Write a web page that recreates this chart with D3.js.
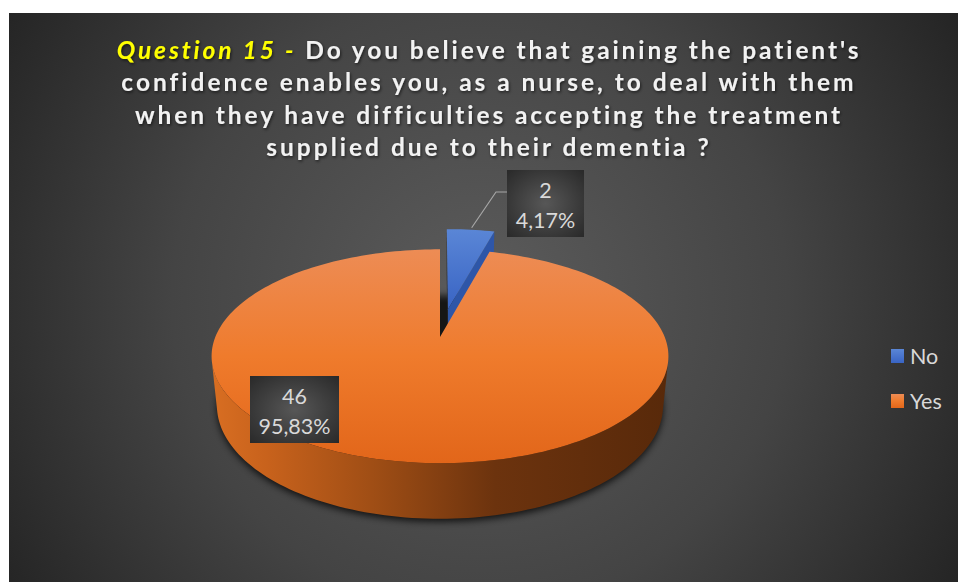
<!DOCTYPE html>
<html>
<head>
<meta charset="utf-8">
<script src="https://cdn.jsdelivr.net/npm/d3@7"></script>
<style>
  html, body { margin: 0; padding: 0; background: #ffffff; }
  svg { display: block; }
</style>
</head>
<body>
<svg id="chart" width="958" height="582"></svg>
<script>
// ---- data ----
const categories = ["No", "Yes"];
const values = [2, 46];
const titlePrefix = "Question 15 - ";
const titleLines = [
  "Do you believe that gaining the patient's",
  "confidence enables you, as a nurse, to deal with them",
  "when they have difficulties accepting the treatment",
  "supplied due to their dementia ?"
];

const W = 958, H = 582;
const svg = d3.select("#chart");
const defs = svg.append("defs");

// ---- background panel ----
const bg = defs.append("radialGradient").attr("id", "bgGrad")
  .attr("gradientUnits", "userSpaceOnUse")
  .attr("cx", 480).attr("cy", 300).attr("r", 560);
bg.append("stop").attr("offset", 0).attr("stop-color", "#5c5c5c");
bg.append("stop").attr("offset", 0.55).attr("stop-color", "#444444");
bg.append("stop").attr("offset", 1).attr("stop-color", "#242424");
svg.append("rect").attr("x", 9).attr("y", 13).attr("width", W - 9).attr("height", H - 13)
  .attr("fill", "url(#bgGrad)");

// ---- 3D pie projection ----
const cx = 440, cy = 337;
const focal = 1110, camDist = 4.94;
const tilt = Math.asin(0.4605);
const sT = Math.sin(tilt), cT = Math.cos(tilt);
const thick = 0.25;      // pie thickness (radius units)
const explode = 0.285;   // offset of the exploded slice

function project(X, Y, Z) {
  const d = Z * cT - Y * sT;
  const v = Z * sT + Y * cT;
  const k = focal / (camDist + d);
  return [cx + X * k, cy - v * k];
}

const pie = d3.pie().sort(null).value(d => d);
const arcs = pie(values);
const total = d3.sum(values);

// shadow under the pie
const shadowBlur = defs.append("filter").attr("id", "pieShadow")
  .attr("x", "-20%").attr("y", "-20%").attr("width", "140%").attr("height", "140%");
shadowBlur.append("feGaussianBlur").attr("stdDeviation", 3.5);

function rimPoints(a0, a1, Y, off, n) {
  const pts = [];
  for (let i = 0; i <= n; i++) {
    const a = a0 + (a1 - a0) * i / n;
    pts.push(project(Math.sin(a) + off[0], Y, Math.cos(a) + off[1]));
  }
  return pts;
}
const line = d3.line();

// gradients
const topOrange = defs.append("linearGradient").attr("id", "topOrange")
  .attr("x1", 0).attr("y1", 0).attr("x2", 0).attr("y2", 1);
topOrange.append("stop").attr("offset", 0).attr("stop-color", "#ED8C55");
topOrange.append("stop").attr("offset", 0.5).attr("stop-color", "#EF7B2C");
topOrange.append("stop").attr("offset", 1).attr("stop-color", "#E2661A");

const sideOrange = defs.append("linearGradient").attr("id", "sideOrange")
  .attr("gradientUnits", "userSpaceOnUse")
  .attr("x1", 212).attr("y1", 0).attr("x2", 668).attr("y2", 0);
sideOrange.append("stop").attr("offset", 0).attr("stop-color", "#D86E22");
sideOrange.append("stop").attr("offset", 0.12).attr("stop-color", "#C8621C");
sideOrange.append("stop").attr("offset", 0.35).attr("stop-color", "#A04E15");
sideOrange.append("stop").attr("offset", 0.62).attr("stop-color", "#6C330E");
sideOrange.append("stop").attr("offset", 1).attr("stop-color", "#58290A");

const topBlue = defs.append("linearGradient").attr("id", "topBlue")
  .attr("x1", 0).attr("y1", 0).attr("x2", 0).attr("y2", 1);
topBlue.append("stop").attr("offset", 0).attr("stop-color", "#5A86D6");
topBlue.append("stop").attr("offset", 1).attr("stop-color", "#3964C4");

const topFills = ["url(#topBlue)", "url(#topOrange)"];

// pie bottom shadow
{
  const bottom = rimPoints(0, 2 * Math.PI, -thick, [0, 0], 120).map(p => [p[0], p[1] + 3]);
  svg.append("path").attr("d", line(bottom) + "Z").attr("fill", "#000").attr("opacity", 0.75)
    .attr("filter", "url(#pieShadow)");
}

const pieG = svg.append("g");

// exploded back slice first, then the large front slice
arcs.forEach((a, i) => {
  const mid = (a.startAngle + a.endAngle) / 2;
  const off = a.data / total < 0.5 ? [explode * Math.sin(mid), explode * Math.cos(mid)] : [0, 0];
  const g = pieG.append("g");
  const n = Math.max(8, Math.round((a.endAngle - a.startAngle) / (2 * Math.PI) * 240));
  const c0 = project(off[0], 0, off[1]);
  const c1 = project(off[0], -thick, off[1]);

  // radial walls
  const wall = (ang, fill) => {
    const r0 = project(Math.sin(ang) + off[0], 0, Math.cos(ang) + off[1]);
    const r1 = project(Math.sin(ang) + off[0], -thick, Math.cos(ang) + off[1]);
    g.append("path").attr("d", line([c0, r0, r1, c1]) + "Z").attr("fill", fill);
  };
  if (i === 0) {
    wall(a.startAngle, "#232323");
    wall(a.endAngle, "#2E56A8");
  }

  // outer wall (only segments facing the viewer)
  const limit = -1 / (camDist * cT);
  const seg = [];
  for (let j = 0; j <= n; j++) {
    const ang = a.startAngle + (a.endAngle - a.startAngle) * j / n;
    if (Math.cos(ang) < limit + 0.02) seg.push(ang);
  }
  if (seg.length > 1) {
    const top = seg.map(t => project(Math.sin(t) + off[0], 0, Math.cos(t) + off[1]));
    const bot = seg.map(t => project(Math.sin(t) + off[0], -thick, Math.cos(t) + off[1])).reverse();
    g.append("path").attr("d", line(top.concat(bot)) + "Z")
      .attr("fill", i === 1 ? "url(#sideOrange)" : "#2E56A8");
  }

  // top face
  const rim = rimPoints(a.startAngle, a.endAngle, 0, off, n);
  g.append("path").attr("d", line([c0].concat(rim)) + "Z").attr("fill", topFills[i]);
});

// ---- data labels ----
const lblGrad = defs.append("radialGradient").attr("id", "lblGrad")
  .attr("cx", 0.5).attr("cy", 0.5).attr("r", 0.75);
lblGrad.append("stop").attr("offset", 0).attr("stop-color", "#575757");
lblGrad.append("stop").attr("offset", 1).attr("stop-color", "#262626");

const fmtPct = v => (v / total * 100).toFixed(2).replace(".", ",") + "%";
const labelBoxes = [
  { x: 507, y: 170, w: 77, h: 67 },
  { x: 250, y: 376, w: 89, h: 67 }
];

// leader line for the small slice
{
  const a = arcs[0];
  const mid = (a.startAngle + a.endAngle) / 2;
  const off = [explode * Math.sin(mid), explode * Math.cos(mid)];
  const p = project(Math.sin(mid) + off[0], 0, Math.cos(mid) + off[1]);
  const b = labelBoxes[0];
  const elbowY = 192;
  svg.append("path")
    .attr("d", line([[p[0] + 1, p[1] - 2], [b.x - 11, elbowY], [b.x, elbowY]]))
    .attr("fill", "none").attr("stroke", "#A6A6A6").attr("stroke-width", 1.2);
}

arcs.forEach((a, i) => {
  const b = labelBoxes[i];
  const g = svg.append("g");
  g.append("rect").attr("x", b.x).attr("y", b.y).attr("width", b.w).attr("height", b.h)
    .attr("fill", "url(#lblGrad)");
  const t = g.append("text").attr("text-anchor", "middle")
    .attr("font-family", "Lato, 'Open Sans', sans-serif").attr("font-size", 21.5)
    .attr("fill", "#D9D9D9");
  t.append("tspan").attr("x", b.x + b.w / 2).attr("y", b.y + 28).text(a.data);
  t.append("tspan").attr("x", b.x + b.w / 2).attr("y", b.y + 58).text(fmtPct(a.data));
});

// ---- legend ----
const legend = svg.append("g");
categories.forEach((c, i) => {
  const y = 349 + i * 45;
  legend.append("rect").attr("x", 891).attr("y", y).attr("width", 13).attr("height", 14)
    .attr("fill", i === 0 ? "url(#topBlue)" : "url(#topOrange)");
  legend.append("text").attr("x", 910).attr("y", y + 15)
    .attr("font-family", "Lato, 'Open Sans', sans-serif").attr("font-size", 21.5)
    .attr("fill", "#D9D9D9").text(c);
});

// ---- title ----
const glow = defs.append("filter").attr("id", "titleShadow")
  .attr("x", "-5%").attr("y", "-30%").attr("width", "110%").attr("height", "160%");
glow.append("feDropShadow").attr("dx", 1).attr("dy", 1.5).attr("stdDeviation", 1.5)
  .attr("flood-color", "#000").attr("flood-opacity", 0.6);

const titleG = svg.append("g").attr("filter", "url(#titleShadow)")
  .attr("font-family", "Lato, 'Open Sans', sans-serif").attr("font-weight", "bold")
  .attr("font-size", 24.5).attr("text-anchor", "middle");
const baselines = [59, 91, 124, 156];
const targetWidths = [742, 732, 705, 443];
titleLines.forEach((ln, i) => {
  const t = titleG.append("text").attr("x", 489).attr("y", baselines[i]).attr("fill", "#F2F2F2");
  if (i === 0) {
    t.append("tspan").attr("fill", "#FFFF00").attr("font-style", "italic").text(titlePrefix.trimEnd());
    t.append("tspan").text(" " + ln);
  } else {
    t.text(ln);
  }
  const chars = (i === 0 ? titlePrefix.length + ln.length : ln.length);
  t.attr("letter-spacing", 0);
  const nat = t.node().getComputedTextLength();
  const ls = (targetWidths[i] - nat) / (chars - 1);
  t.attr("letter-spacing", ls);
});
</script>
</body>
</html>
